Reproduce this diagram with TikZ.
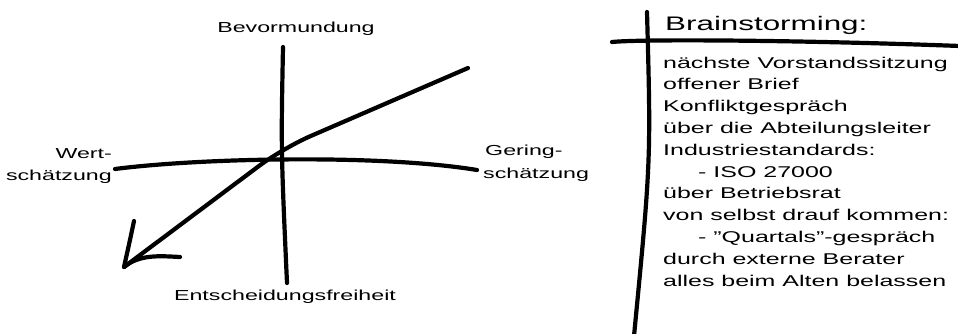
\documentclass[tikz,border=0pt]{standalone}
\usepackage{fontspec}
\setmainfont[FakeStretch=1.6]{Liberation Sans}
\begin{document}
\begin{tikzpicture}[x=1pt,y=-1pt,
  stroke/.style={line width=4.2pt, line cap=round, line join=round},
  lbl/.style={inner sep=0pt, font=\fontsize{14.5}{16}\selectfont},
  item/.style={inner sep=0pt, anchor=base west, font=\fontsize{15.6}{18}\selectfont}]
\useasboundingbox (0,0) rectangle (958,333);
% ---- left diagram
\coordinate (vTop) at (283,47);
\coordinate (vBot) at (287,283);
\coordinate (hL) at (115,169);
\coordinate (hR) at (477,170);
\coordinate (dA) at (468,68);
\coordinate (dK) at (283,148);
\coordinate (tip) at (124,267);
\coordinate (barbL) at (134,221);
\coordinate (barbB) at (180,257);
\draw[stroke] (vTop) .. controls (281,150) .. (vBot);
\draw[stroke] (hL) .. controls (200,158) and (380,154) .. (hR);
\draw[stroke, rounded corners=30pt] (dA) -- (dK) -- (tip);
\draw[stroke] (barbL) .. controls (130,240) .. (tip) .. controls (140,254) and (160,256) .. (barbB);
\node[lbl, anchor=base] (bev) at (296,32) {Bevormundung};
\node[lbl, anchor=base] (ent) at (285,300) {Entscheidungsfreiheit};
\node[lbl, anchor=base east] (wert1) at (112,158) {Wert-};
\node[lbl, anchor=base east] (wert2) at (112,180) {schätzung};
\node[lbl, anchor=base west] (ger1) at (485,155) {Gering-};
\node[lbl, anchor=base west] (ger2) at (483,178) {schätzung};
% ---- right panel
\coordinate (pTop) at (647,12);
\coordinate (pBot) at (634,336);
\coordinate (pL) at (612,42);
\coordinate (pR) at (960,46);
\draw[stroke] (pTop) .. controls (651,160) .. (pBot);
\draw[stroke] (pL) .. controls (640,39) and (800,40) .. (pR);
\node[inner sep=0pt, anchor=base west, font=\fontsize{19.6}{22}\selectfont] (bs) at (665,30) {Brainstorming:};
\node[item] (i1) at (663,68) {nächste Vorstandssitzung};
\node[item] (i2) at (663,89.8) {offener Brief};
\node[item] (i3) at (663,111.6) {Konfliktgespräch};
\node[item] (i4) at (663,133.4) {über die Abteilungsleiter};
\node[item] (i5) at (663,155.2) {Industriestandards:};
\node[item] (i6) at (698,177) {- ISO 27000};
\node[item] (i7) at (663,198.8) {über Betriebsrat};
\node[item] (i8) at (663,220.6) {von selbst drauf kommen:};
\node[item] (i9) at (698,242.4) {- \symbol{34}Quartals\symbol{34}-gespräch};
\node[item] (i10) at (663,264.2) {durch externe Berater};
\node[item] (i11) at (663,286) {alles beim Alten belassen};
\end{tikzpicture}
\end{document}
